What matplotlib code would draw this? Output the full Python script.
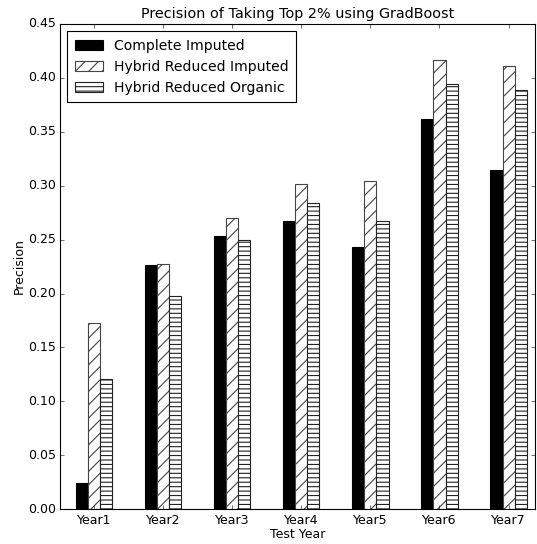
import numpy as np
import matplotlib
matplotlib.use("Agg")
import matplotlib.pyplot as plt

plt.style.use('classic')

years = ['Year1', 'Year2', 'Year3', 'Year4', 'Year5', 'Year6', 'Year7']
complete_imputed = [0.024, 0.226, 0.253, 0.267, 0.243, 0.362, 0.315]
hybrid_imputed = [0.173, 0.227, 0.270, 0.302, 0.304, 0.417, 0.411]
hybrid_organic = [0.121, 0.198, 0.250, 0.284, 0.267, 0.394, 0.389]

DPI = 80
fig = plt.figure(figsize=(537 / DPI, 544 / DPI), dpi=DPI, facecolor='white')
ax = fig.add_axes([0.112, 0.064, 0.884, 0.892])

ind = np.arange(len(years))
width = 0.175

ax.bar(ind - width, complete_imputed, width, color='black', edgecolor='black',
       label='Complete Imputed')
ax.bar(ind, hybrid_imputed, width, color='white', edgecolor='#444444',
       hatch='//', label='Hybrid Reduced Imputed')
ax.bar(ind + width, hybrid_organic, width, color='white', edgecolor='#222222',
       hatch='---', label='Hybrid Reduced Organic')

ax.set_xticks(ind)
ax.set_xticklabels(years, fontsize=11.25)
ax.set_xlim(-0.49, 6.38)
ax.set_ylim(0, 0.45)
ax.set_yticks(np.arange(0, 0.46, 0.05))
ax.set_yticklabels(['%.2f' % v for v in np.arange(0, 0.46, 0.05)], fontsize=11.25)

ax.set_xlabel('Test Year', fontsize=11.25, labelpad=1)
ax.set_ylabel('Precision', fontsize=11.25, labelpad=2)
ax.set_title('Precision of Taking Top 2% using GradBoost', fontsize=12.9)

ax.legend(loc='upper left', fontsize=12.6, fancybox=False, handlelength=2.0,
          borderaxespad=0.5, borderpad=0.55)

fig.savefig('out.png', dpi=DPI, facecolor='white')
